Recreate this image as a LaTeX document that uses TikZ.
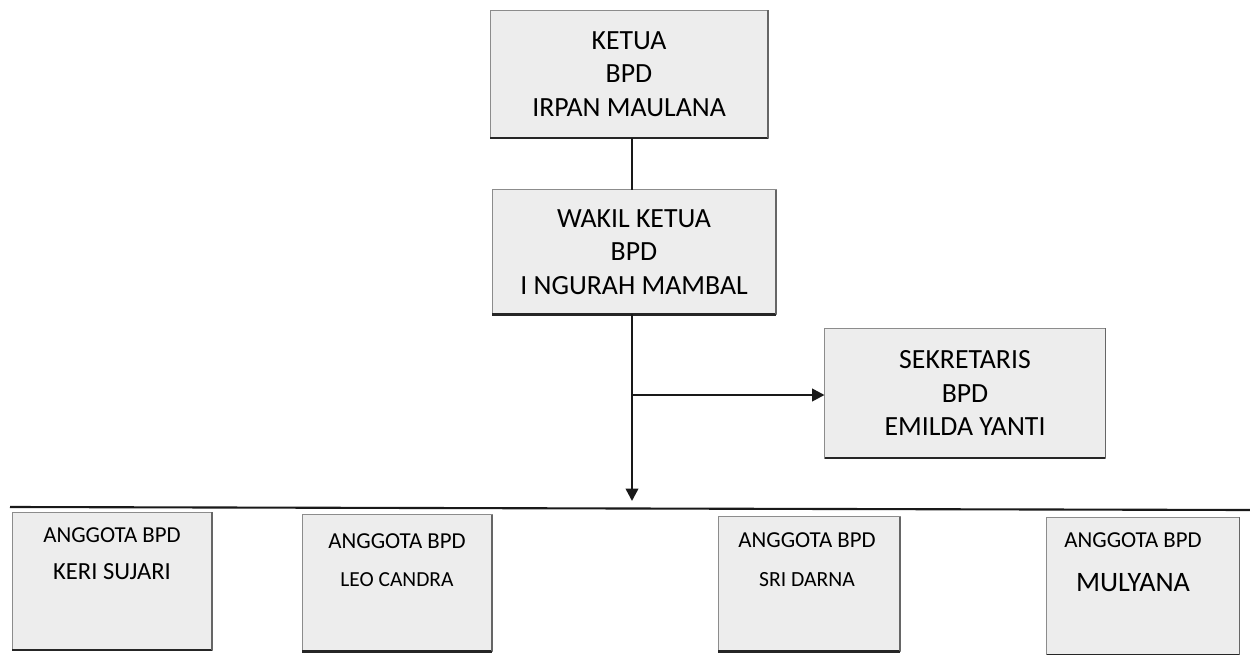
\documentclass[tikz,border=0pt]{standalone}
\usepackage{fontspec}
\setmainfont{Carlito}
\usetikzlibrary{arrows.meta}
\begin{document}
\begin{tikzpicture}[x=0.02cm,y=-0.02cm,
  box/.style={draw=black!45, line width=0.4pt, fill=black!7, inner sep=0pt, outer sep=0pt},
  toptext/.style={align=center, font=\fontsize{15.8}{19}\selectfont, text=black},
  memtext/.style={font=\fontsize{13}{15}\selectfont, text=black, inner sep=0pt},
  conn/.style={line width=1.4pt, black!90},
  tip/.style={-{Triangle[length=7pt,width=7pt]}}
]
\useasboundingbox (0,0) rectangle (1250,655);
% top boxes
\node[box, minimum width=5.56cm, minimum height=2.56cm, toptext] (ketua) at (629,74) {KETUA\\BPD\\IRPAN MAULANA};
\node[box, minimum width=5.68cm, minimum height=2.5cm, toptext] (wakil) at (634,252) {WAKIL KETUA\\BPD\\I NGURAH MAMBAL};
\node[box, minimum width=5.62cm, minimum height=2.6cm, toptext] (sekr) at (965,393) {SEKRETARIS\\BPD\\EMILDA YANTI};
% bottom boxes
\node[box, minimum width=4.0cm, minimum height=2.76cm] (m1) at (112,581) {};
\node[box, minimum width=3.8cm, minimum height=2.74cm] (m2) at (397,583) {};
\node[box, minimum width=3.64cm, minimum height=2.7cm] (m3) at (809,584) {};
\node[box, minimum width=3.86cm, minimum height=2.76cm] (m4) at (1143,586) {};
% shadow edges
\foreach \b in {ketua,wakil,sekr,m1,m2,m3,m4}{
  \draw[black!85, line width=1.6pt] (\b.south west) -- (\b.south east);
  \draw[black!60, line width=0.8pt] (\b.north east) -- (\b.south east);
}
% member texts
\node[memtext] (m1a) at (112,535) {ANGGOTA BPD};
\node[memtext, font=\fontsize{14}{16}\selectfont] (m1b) at (112,572) {KERI SUJARI};
\node[memtext] (m2a) at (397,541) {ANGGOTA BPD};
\node[memtext, font=\fontsize{12.2}{14}\selectfont] (m2b) at (397,580) {LEO CANDRA};
\node[memtext] (m3a) at (807,540) {ANGGOTA BPD};
\node[memtext, font=\fontsize{12.3}{14}\selectfont] (m3b) at (807,580) {SRI DARNA};
\node[memtext] (m4a) at (1133,540) {ANGGOTA BPD};
\node[memtext, font=\fontsize{16}{18}\selectfont] (m4b) at (1133,583) {MULYANA};
% connectors
\coordinate (jn) at (632,395);
\coordinate (bot) at (632,501);
\coordinate (hl) at (10,507);
\coordinate (hr) at (1250,510);
\draw[conn] (ketua.south -| 632,0) -- (wakil.north -| 632,0);
\draw[conn] (wakil.south -| 632,0) -- (jn);
\draw[conn, tip] (jn) -- (bot);
\draw[conn, tip] (jn) -- (jn -| sekr.west);
\draw[line width=1.2pt, black!90] (hl) -- (hr);
\end{tikzpicture}
\end{document}
